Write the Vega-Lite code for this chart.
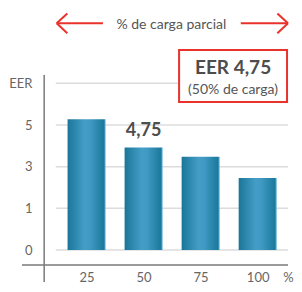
{
  "$schema": "https://vega.github.io/schema/vega-lite/v6.json",
  "width": 276,
  "height": 265,
  "autosize": {"type": "none"},
  "padding": {"left": 17, "top": 0, "right": 9, "bottom": 27},
  "background": "white",
  "config": {"view": {"stroke": null}, "font": "Lato"},
  "datasets": {
    "bars": [
      {"carga": 25, "eer": 3.14},
      {"carga": 50, "eer": 2.46},
      {"carga": 75, "eer": 2.24},
      {"carga": 100, "eer": 1.73}
    ],
    "grid": [
      {"level": 0, "x1": 11.5, "x2": 113.3},
      {"level": 1, "x1": 11.5, "x2": 113.3},
      {"level": 2, "x1": 11.5, "x2": 113.3},
      {"level": 3, "x1": 11.5, "x2": 113.3},
      {"level": 4, "x1": 11.5, "x2": 113.3}
    ],
    "axes": [
      {"x1": 6.42, "x2": 6.42, "y1": 4.2, "y2": -0.77},
      {"x1": -3.3, "x2": 113.3, "y1": -0.36, "y2": -0.36}
    ],
    "arrows": [
      {"x1": 11.91, "y1": 5.44, "x2": 32.19, "y2": 5.44},
      {"x1": 11.91, "y1": 5.44, "x2": 16.56, "y2": 5.676},
      {"x1": 11.91, "y1": 5.44, "x2": 16.56, "y2": 5.2},
      {"x1": 92.6, "y1": 5.44, "x2": 113.3, "y2": 5.44},
      {"x1": 113.3, "y1": 5.44, "x2": 108.65, "y2": 5.676},
      {"x1": 113.3, "y1": 5.44, "x2": 108.65, "y2": 5.2}
    ],
    "box": [{"x1": 65.56, "x2": 112.88, "y1": 4.8, "y2": 3.552}]
  },
  "layer": [
    {
      "data": {"name": "grid"},
      "mark": {"type": "rule", "color": "#dcdcdc", "strokeWidth": 1.5},
      "encoding": {
        "x": {"field": "x1", "type": "quantitative", "scale": {"domain": [-3.3, 113.3], "nice": false, "zero": false},
          "axis": {"values": [25, 50, 75, 100, 113.3], "labelExpr": "datum.value > 110 ? '%' : format(datum.value, 'd')", "domain": false, "ticks": false, "tickSize": 0, "grid": false, "title": null, "labelPadding": 12, "labelBaseline": "middle", "labelFontSize": 13, "labelColor": "#666666", "labelFont": "Lato", "labelOverlap": false, "labelFlush": false}},
        "x2": {"field": "x2"},
        "y": {"field": "level", "type": "quantitative", "scale": {"domain": [-0.36, 6.0], "nice": false, "zero": false},
          "axis": {"values": [0, 1, 2, 3, 4], "labelExpr": "['0','1','3','5','EER'][datum.value]", "domain": false, "ticks": false, "tickSize": 0, "grid": false, "title": null, "offset": -23, "labelPadding": 8, "labelFontSize": 13, "labelColor": "#666666", "labelFont": "Lato"}}
      }
    },
    {
      "data": {"name": "box"},
      "mark": {"type": "rect", "fill": "white", "stroke": "#e8322b", "strokeWidth": 2},
      "encoding": {
        "x": {"field": "x1", "type": "quantitative"},
        "x2": {"field": "x2"},
        "y": {"field": "y1", "type": "quantitative"},
        "y2": {"field": "y2"}
      }
    },
    {
      "data": {"name": "axes"},
      "mark": {"type": "rule", "color": "#7a7a7a", "strokeWidth": 1.5},
      "encoding": {
        "x": {"field": "x1", "type": "quantitative"},
        "x2": {"field": "x2"},
        "y": {"field": "y1", "type": "quantitative"},
        "y2": {"field": "y2"}
      }
    },
    {
      "data": {"name": "arrows"},
      "mark": {"type": "rule", "color": "#e8322b", "strokeWidth": 2},
      "encoding": {
        "x": {"field": "x1", "type": "quantitative"},
        "x2": {"field": "x2"},
        "y": {"field": "y1", "type": "quantitative"},
        "y2": {"field": "y2"}
      }
    },
    {
      "data": {"name": "bars"},
      "mark": {"type": "bar", "size": 38, "color": {"gradient": "linear", "x1": 0, "x2": 1, "y1": 0, "y2": 0, "stops": [
        {"offset": 0, "color": "#1a7699"},
        {"offset": 0.45, "color": "#449dc6"},
        {"offset": 0.6, "color": "#3f99c3"},
        {"offset": 0.95, "color": "#1c7a9d"},
        {"offset": 1, "color": "#5ab0d6"}
      ]}},
      "encoding": {
        "x": {"field": "carga", "type": "quantitative"},
        "y": {"field": "eer", "type": "quantitative"},
        "y2": {"datum": 0}
      }
    },
    {
      "data": {"values": [
        {"x": 50, "y": 2.736, "t": "4,75"}
      ]},
      "mark": {"type": "text", "font": "Lato", "fontSize": 18, "fontWeight": "bold", "color": "#4d4d4d", "baseline": "alphabetic", "align": "center"},
      "encoding": {
        "x": {"field": "x", "type": "quantitative"},
        "y": {"field": "y", "type": "quantitative"},
        "text": {"field": "t"}
      }
    },
    {
      "data": {"values": [
        {"x": 89.22, "y": 4.368, "t": "EER 4,75"}
      ]},
      "mark": {"type": "text", "font": "Lato", "fontSize": 19, "fontWeight": "bold", "color": "#4d4d4d", "baseline": "middle", "align": "center"},
      "encoding": {
        "x": {"field": "x", "type": "quantitative"},
        "y": {"field": "y", "type": "quantitative"},
        "text": {"field": "t"}
      }
    },
    {
      "data": {"values": [
        {"x": 62.18, "y": 5.4, "t": "% de carga parcial"},
        {"x": 89.22, "y": 3.84, "t": "(50% de carga)"}
      ]},
      "mark": {"type": "text", "font": "Lato", "fontSize": 14, "color": "#555555", "baseline": "middle", "align": "center"},
      "encoding": {
        "x": {"field": "x", "type": "quantitative"},
        "y": {"field": "y", "type": "quantitative"},
        "text": {"field": "t"}
      }
    }
  ]
}
